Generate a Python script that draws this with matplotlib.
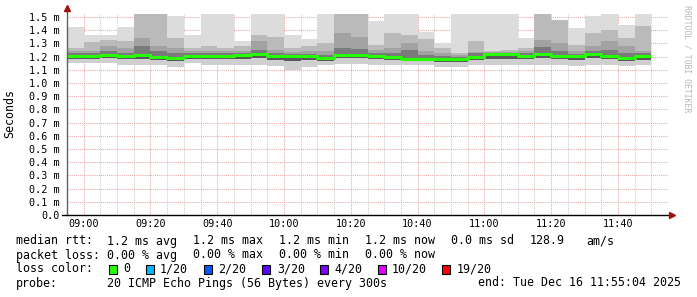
import numpy as np
import matplotlib
matplotlib.use("Agg")
import matplotlib.pyplot as plt
from matplotlib.patches import Rectangle

# ---------------- data (ms), one value per 5-minute step starting 08:55 ----------------
step_minutes = 5
start_offset = -5  # minutes relative to 09:00

top = [1.424, 1.366, 1.366, 1.424, 1.52, 1.52, 1.505, 1.366, 1.52, 1.52,
       1.316, 1.52, 1.52, 1.366, 1.333, 1.52, 1.52, 1.52, 1.472, 1.52,
       1.52, 1.39, 1.303, 1.52, 1.52, 1.52, 1.52, 1.34, 1.52, 1.48,
       1.417, 1.505, 1.52, 1.44, 1.52]
upper2 = [1.265, 1.308, 1.323, 1.316, 1.52, 1.52, 1.34, 1.265, 1.278, 1.265,
          1.278, 1.366, 1.346, 1.265, 1.278, 1.303, 1.52, 1.52, 1.29, 1.379,
          1.36, 1.333, 1.265, 1.227, 1.316, 1.245, 1.253, 1.265, 1.52, 1.48,
          1.29, 1.379, 1.404, 1.34, 1.43]
mid_hi = [1.24, 1.245, 1.283, 1.265, 1.34, 1.278, 1.265, 1.24, 1.24, 1.24,
          1.24, 1.316, 1.253, 1.235, 1.24, 1.24, 1.379, 1.346, 1.253, 1.265,
          1.303, 1.24, 1.227, 1.215, 1.235, 1.235, 1.235, 1.24, 1.328, 1.303,
          1.24, 1.278, 1.316, 1.278, 1.24]
dark_hi = [1.225, 1.225, 1.245, 1.23, 1.28, 1.24, 1.225, 1.225, 1.225, 1.225,
           1.23, 1.25, 1.225, 1.22, 1.22, 1.215, 1.265, 1.255, 1.225, 1.23,
           1.25, 1.215, 1.205, 1.2, 1.225, 1.23, 1.23, 1.225, 1.27, 1.245,
           1.22, 1.24, 1.25, 1.225, 1.225]
median = [1.207, 1.207, 1.215, 1.202, 1.215, 1.197, 1.19, 1.207, 1.202, 1.202,
          1.215, 1.22, 1.202, 1.202, 1.202, 1.19, 1.215, 1.215, 1.202, 1.195,
          1.185, 1.185, 1.185, 1.185, 1.197, 1.22, 1.217, 1.207, 1.222, 1.207,
          1.202, 1.22, 1.207, 1.19, 1.202]
low = [1.185, 1.185, 1.19, 1.18, 1.185, 1.175, 1.165, 1.185, 1.18, 1.18,
       1.185, 1.19, 1.175, 1.17, 1.175, 1.17, 1.19, 1.19, 1.18, 1.175,
       1.165, 1.165, 1.16, 1.16, 1.175, 1.185, 1.185, 1.18, 1.19, 1.18,
       1.175, 1.19, 1.18, 1.165, 1.175]
bottom = [1.152, 1.152, 1.152, 1.139, 1.139, 1.134, 1.119, 1.152, 1.139, 1.134,
          1.134, 1.134, 1.126, 1.101, 1.119, 1.134, 1.144, 1.144, 1.139, 1.139,
          1.139, 1.134, 1.119, 1.119, 1.139, 1.139, 1.139, 1.134, 1.139, 1.134,
          1.126, 1.134, 1.139, 1.126, 1.134]

xtick_minutes = [0, 20, 40, 60, 80, 100, 120, 140, 160]
xtick_labels = ["09:00", "09:20", "09:40", "10:00", "10:20", "10:40", "11:00", "11:20", "11:40"]
ytick_values = [0.0, 0.1, 0.2, 0.3, 0.4, 0.5, 0.6, 0.7, 0.8, 0.9, 1.0, 1.1, 1.2, 1.3, 1.4, 1.5]
ytick_labels = ["0.0"] + ["%.1f m" % v for v in ytick_values[1:]]

loss_labels = ["0", "1/20", "2/20", "3/20", "4/20", "10/20", "19/20"]
loss_colors = ["#26ff00", "#00b8ff", "#0059ff", "#5e00ff", "#7e00ff", "#dd00ff", "#ff0000"]

# ---------------- figure ----------------
W, H = 697, 297
fig = plt.figure(figsize=(W / 100, H / 100), dpi=100)
fig.patch.set_facecolor("white")

ax_left, ax_right, ax_bot, ymax = 67, 668, 215, 1.525
ax_top = ax_bot - ymax * 132.0
ax = fig.add_axes([ax_left / W, 1 - ax_bot / H, (ax_right - ax_left) / W, (ax_bot - ax_top) / H])
ax.set_xlim(-5, 175)
ax.set_ylim(0, ymax)
for s in ax.spines.values():
    s.set_visible(False)

mono = "DejaVu Sans Mono"

# grid
dot = (0, (1, 1))
for m in range(-5, 176, 5):
    if m % 20 == 0:
        ax.axvline(m, color="#e6a8a8", lw=0.75, ls=dot, zorder=0.5)
    else:
        ax.axvline(m, color="#cccccc", lw=0.75, ls=dot, zorder=0.5)
for v in ytick_values[1:]:
    ax.axhline(v, color="#e6a8a8", lw=0.75, ls=dot, zorder=0.5)

# smoke
n = len(median)
x0 = start_offset + step_minutes * np.arange(n)
top_a, up2, mh, dh, med, lo, bo = map(np.array, (top, upper2, mid_hi, dark_hi, median, low, bottom))
bands = [
    (bo, lo, "#cfcfcf"),
    (lo, med, "#585858"),
    (med, dh, "#7a7a7a"),
    (dh, mh, "#a2a2a2"),
    (mh, up2, "#bababa"),
    (up2, top_a, "#dcdcdc"),
]
for b, t, c in bands:
    ax.bar(x0, t - b, bottom=b, width=step_minutes, align="edge", color=c,
           edgecolor="none", linewidth=0, zorder=1)

# median line
xs = np.append(x0, x0[-1] + step_minutes)
ys = np.append(med, med[-1])
ax.step(xs, ys, where="post", color="#26ff00", lw=2.2, zorder=3, solid_capstyle="butt")

# ticks
ax.set_xticks(xtick_minutes)
ax.set_xticklabels(xtick_labels, fontfamily=mono, fontsize=7.3)
ax.set_yticks(ytick_values)
ax.set_yticklabels(ytick_labels, fontfamily=mono, fontsize=7.3)
ax.tick_params(axis="both", length=0, colors="#000000")
ax.tick_params(axis="y", pad=5)
ax.tick_params(axis="x", pad=3)

# axes lines with arrows
ax.plot([0, 0], [0, 1.02], transform=ax.transAxes, color="#606060", lw=1.0, clip_on=False, zorder=4)
ax.plot([0], [1.03], marker="^", color="#a01010", markersize=4, transform=ax.transAxes,
        clip_on=False, zorder=5)
ax.plot([-0.009, 1.002], [0, 0], transform=ax.transAxes, color="#000000", lw=1.0, clip_on=False, zorder=4)
ax.plot([1.007], [0], marker=">", color="#a01010", markersize=4, transform=ax.transAxes,
        clip_on=False, zorder=5)

# y label and watermark
fig.text(10 / W, 1 - 114 / H, "Seconds", rotation=90, ha="center", va="center",
         fontfamily=mono, fontsize=8.4)
fig.text(687 / W, 1 - 59 / H, "RRDTOOL / TOBI OETIKER", rotation=270, ha="center", va="center",
         fontfamily=mono, fontsize=5.9, color="#b8b8b8")

# legend text
def t(px, py, s):
    fig.text(px / W, 1 - py / H, s, ha="left", va="center", fontfamily=mono, fontsize=8.4)

y1, y2, y3, y4 = 241, 255, 269, 283
t(16, y1, "median rtt:")
for px, s in zip([107, 193, 279, 365, 451, 530, 586],
                 ["1.2 ms avg", "1.2 ms max", "1.2 ms min", "1.2 ms now", "0.0 ms sd", "128.9", "am/s"]):
    t(px, y1, s)
t(16, y2, "packet loss:")
for px, s in zip([107, 193, 279, 365], ["0.00 % avg", "0.00 % max", "0.00 % min", "0.00 % now"]):
    t(px, y2, s)
t(16, y3, "loss color:")
sq_x = [109, 146, 204, 262, 320, 378, 442]
lab_x = [123, 160, 218, 277, 334, 392, 457]
for sx, lx, lab, col in zip(sq_x, lab_x, loss_labels, loss_colors):
    fig.patches.append(Rectangle((sx / W, 1 - (y3 + 5) / H), 8 / W, 9 / H, transform=fig.transFigure,
                                 facecolor=col, edgecolor="black", linewidth=0.8))
    t(lx, y3, lab)
t(16, y4, "probe:")
t(107, y4, "20 ICMP Echo Pings (56 Bytes) every 300s")
t(478, y4, "end: Tue Dec 16 11:55:04 2025")

fig.savefig("out.png", dpi=100, facecolor="white")
